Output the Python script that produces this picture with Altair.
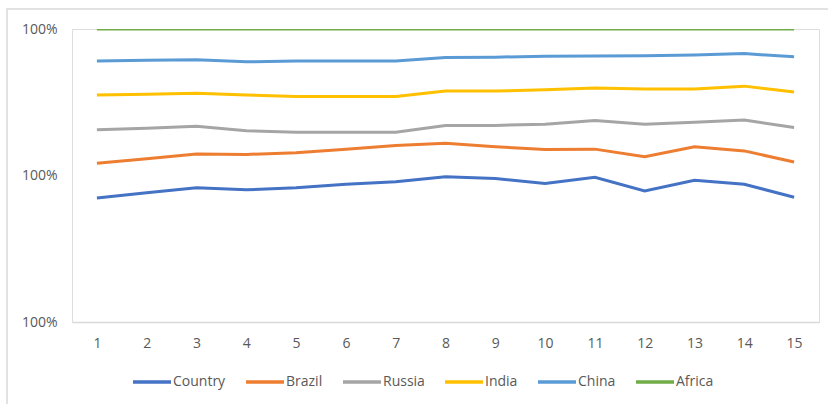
import altair as alt
import pandas as pd

x_vals = list(range(1, 16))
series_names = ["Country", "Brazil", "Russia", "India", "China", "Africa"]
series_colors = ["#4472C4", "#ED7D31", "#A5A5A5", "#FFC000", "#5B9BD5", "#70AD47"]

# cumulative (100% stacked) positions
country = [0.423, 0.441, 0.458, 0.451, 0.458, 0.470, 0.479, 0.496, 0.490, 0.473, 0.494, 0.447, 0.484, 0.470, 0.426]
brazil = [0.542, 0.557, 0.573, 0.572, 0.578, 0.590, 0.602, 0.610, 0.598, 0.589, 0.590, 0.564, 0.598, 0.584, 0.546]
russia = [0.656, 0.661, 0.668, 0.653, 0.648, 0.648, 0.648, 0.671, 0.671, 0.675, 0.688, 0.675, 0.682, 0.689, 0.664]
india = [0.775, 0.777, 0.781, 0.775, 0.770, 0.770, 0.770, 0.788, 0.788, 0.793, 0.799, 0.795, 0.795, 0.805, 0.785]
china = [0.891, 0.893, 0.895, 0.888, 0.891, 0.891, 0.891, 0.903, 0.904, 0.907, 0.908, 0.909, 0.911, 0.916, 0.905]
africa = [1.0] * 15

y_tick_values = [0, 0.5, 1.0]
y_tick_label = "100%"

rows = []
for name, vals in zip(series_names, [country, brazil, russia, india, china, africa]):
    for xv, yv in zip(x_vals, vals):
        rows.append({"x": xv, "value": yv, "series": name})
df = pd.DataFrame(rows)

FONT = "Open Sans"
GREY = "#595959"

lines = alt.Chart(df).mark_line(strokeWidth=3, clip=True).encode(
    x=alt.X(
        "x:Q",
        scale=alt.Scale(domain=[0.5, 15.5], nice=False, zero=False),
        axis=alt.Axis(
            values=x_vals, title=None, ticks=False, grid=False,
            domainColor="#D9D9D9", domainWidth=1.5,
            labelFont=FONT, labelFontSize=14, labelColor=GREY, labelPadding=14,
            labelFlush=False,
        ),
    ),
    y=alt.Y(
        "value:Q",
        scale=alt.Scale(domain=[0, 1], nice=False),
        axis=alt.Axis(
            values=y_tick_values, title=None, ticks=False, grid=False, domain=False,
            labelExpr="'" + y_tick_label + "'",
            labelFont=FONT, labelFontSize=14, labelColor=GREY, labelPadding=15,
        ),
    ),
    color=alt.Color(
        "series:N",
        scale=alt.Scale(domain=series_names, range=series_colors),
        sort=series_names,
        legend=alt.Legend(
            title=None, orient="none", direction="horizontal", columns=6,
            legendX=59, legendY=332, padding=0,
            symbolType="stroke", symbolSize=1444, symbolStrokeWidth=3.5,
            labelFont=FONT, labelFontSize=14, labelColor=GREY,
            labelOffset=0, columnPadding=13,
        ),
    ),
    order=alt.Order("x:Q"),
)

border = alt.Chart(pd.DataFrame({"a": [0]})).mark_rect(
    fill=None, stroke="#D9D9D9", strokeWidth=1.5, clip=False
).encode(
    x=alt.value(-65), x2=alt.value(765), y=alt.value(-20), y2=alt.value(385)
)

chart = alt.layer(border, lines).properties(
    width=747, height=293,
    autosize=alt.AutoSizeParams(type="none"),
    padding={"left": 72, "top": 29, "right": 9, "bottom": 82},
).configure_view(stroke=None).configure(background="white")

chart.save("out.html", embed_options={"renderer": "svg", "actions": False})
